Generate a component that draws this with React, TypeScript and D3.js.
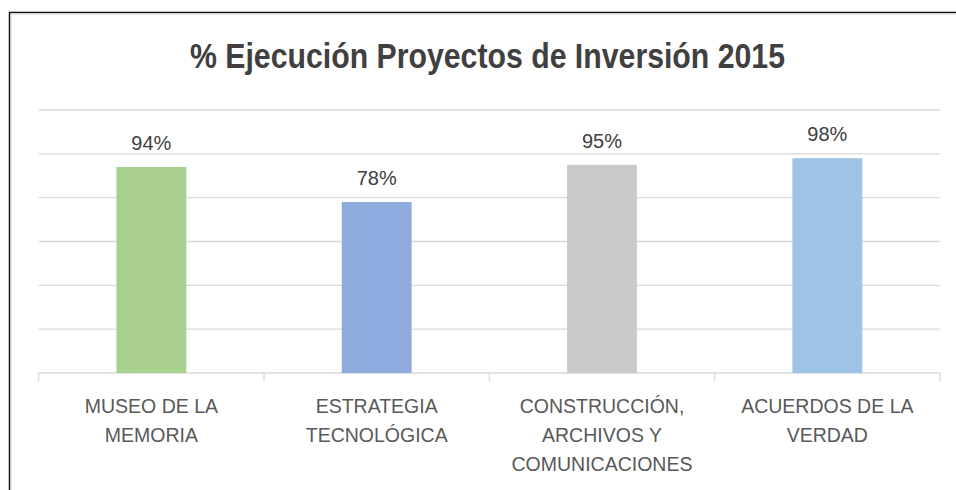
import React from "react";
import * as d3 from "d3";

const categories = [
  ["MUSEO DE LA", "MEMORIA"],
  ["ESTRATEGIA", "TECNOLÓGICA"],
  ["CONSTRUCCIÓN,", "ARCHIVOS Y", "COMUNICACIONES"],
  ["ACUERDOS DE LA", "VERDAD"],
];
const values = [0.94, 0.78, 0.95, 0.98];
const colors = ["#A9D18E", "#8FAADC", "#C9C9C9", "#9DC3E6"];
const gridTicks = [0, 0.2, 0.4, 0.6, 0.8, 1.0, 1.2];
const title = "% Ejecución Proyectos de Inversión 2015";

const W = 956;
const H = 490;
const plot = { left: 38.7, right: 940, top: 110, bottom: 373 };

export default function App() {
  const keys = categories.map((c) => c.join(" "));
  const x = d3
    .scaleBand<string>()
    .domain(keys)
    .range([plot.left, plot.right])
    .paddingInner(0.69)
    .paddingOuter(0.345);
  const y = d3.scaleLinear().domain([0, 1.2]).range([plot.bottom, plot.top]);
  const step = x.step();
  const pct = d3.format(".0%");

  // límites de categoría para las marcas del eje
  const boundaries = keys.map((k) => (x(k) as number) - (step - x.bandwidth()) / 2);
  boundaries.push(plot.right);

  return (
    <svg
      width={W}
      height={H}
      style={{ position: "absolute", left: 0, top: 0, background: "#fff" }}
      fontFamily="'Liberation Sans', Arial, sans-serif"
    >
      {/* marco */}
      <line x1={9} x2={W} y1={12.5} y2={12.5} stroke="#111" strokeWidth={1.5} />
      <line x1={9.5} x2={9.5} y1={12} y2={H} stroke="#111" strokeWidth={1.5} />
      <line x1={11} x2={11} y1={14} y2={H} stroke="#ccc" strokeWidth={1} />
      <line x1={11} x2={W} y1={14} y2={14} stroke="#ddd" strokeWidth={1} />

      <text
        x={487.5}
        y={67.5}
        textAnchor="middle"
        fontSize={35}
        fontWeight="bold"
        fill="#404040"
        textLength={595}
        lengthAdjust="spacingAndGlyphs"
      >
        {title}
      </text>

      {gridTicks.map((t) => (
        <line
          key={t}
          x1={plot.left}
          x2={plot.right}
          y1={y(t)}
          y2={y(t)}
          stroke="#D9D9D9"
          strokeWidth={1.3}
        />
      ))}
      {boundaries.map((b, i) => (
        <line key={i} x1={b} x2={b} y1={plot.bottom} y2={plot.bottom + 8} stroke="#D9D9D9" strokeWidth={1.3} />
      ))}

      {keys.map((k, i) => (
        <g key={k}>
          <rect
            x={x(k)}
            y={y(values[i])}
            width={x.bandwidth()}
            height={y(0) - y(values[i])}
            fill={colors[i]}
          />
          <text
            x={(x(k) as number) + x.bandwidth() / 2}
            y={y(values[i]) - 17}
            textAnchor="middle"
            fontSize={20}
            fill="#404040"
          >
            {pct(values[i])}
          </text>
          <text
            x={(x(k) as number) + x.bandwidth() / 2}
            y={413}
            textAnchor="middle"
            fontSize={19.5}
            fill="#595959"
          >
            {categories[i].map((line, j) => (
              <tspan key={j} x={(x(k) as number) + x.bandwidth() / 2} dy={j === 0 ? 0 : 29}>
                {line}
              </tspan>
            ))}
          </text>
        </g>
      ))}
    </svg>
  );
}
